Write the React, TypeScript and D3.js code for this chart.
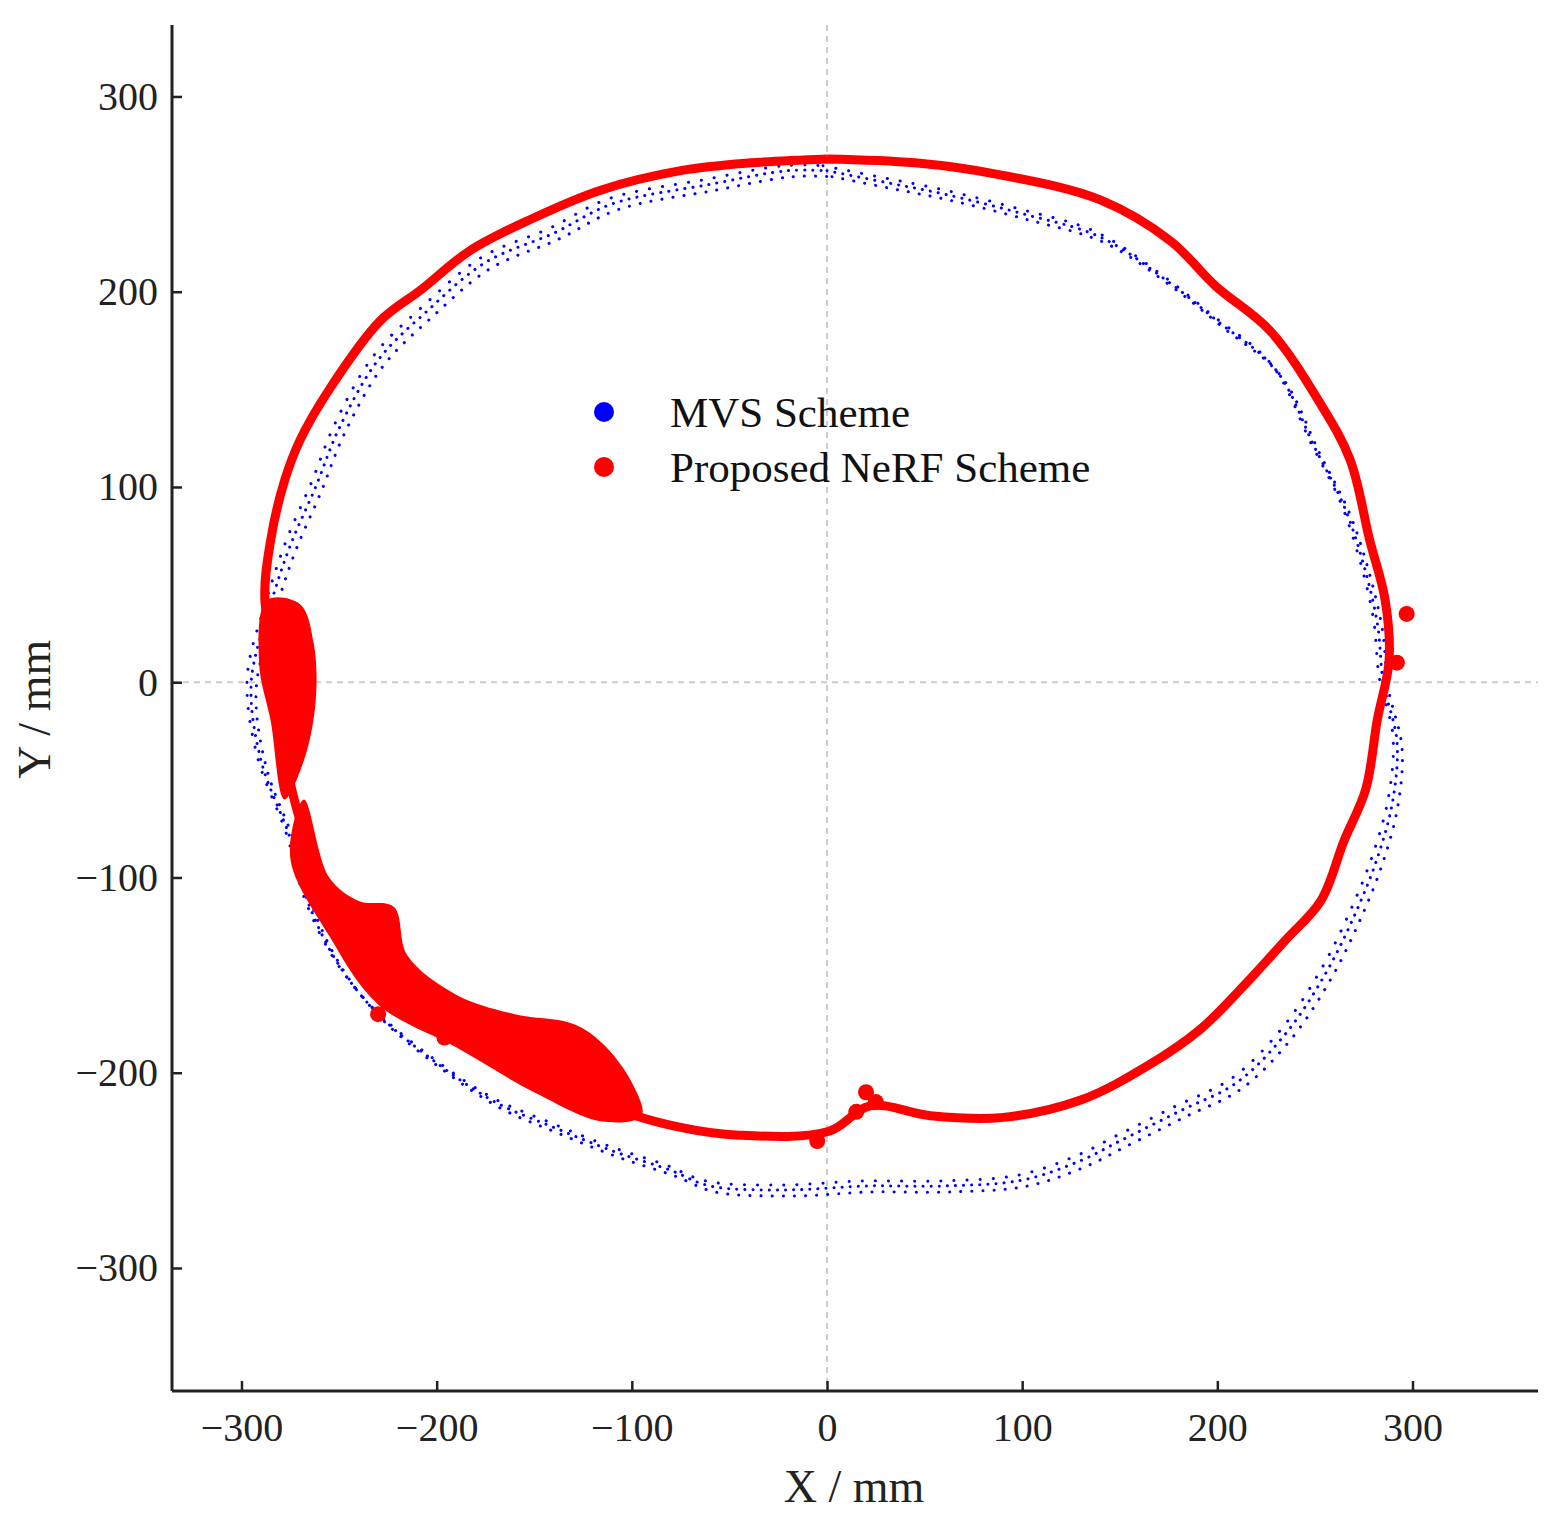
import { useEffect, useRef } from 'react';
import * as d3 from 'd3';

// red centerline (mm), ordered around the ring
const nerfX = [0, 45, 88, 140, 176, 199, 227, 252, 268, 278, 286, 288, 282, 276, 265, 253, 235, 214, 191, 165, 130, 89, 53, 22, 1, -45, -75, -106, -137, -168, -203, -229, -255, -270, -278, -280, -288, -285, -278, -270, -255, -229, -208, -183, -152, -116, -75, -39, 0];
const nerfY = [268, 266, 260, 247, 226, 203, 180, 144, 114, 73, 42, 11, -19, -55, -81, -112, -132, -155, -178, -196, -214, -223, -222, -217, -230, -232, -228, -219, -201, -186, -168, -147, -112, -71, -35, 0, 42, 73, 103, 124, 150, 185, 201, 221, 237, 252, 262, 266, 268];
// dense red patches (outlines)
const lowBlobX = [-268, -255, -240, -222, -215, -190, -160, -130, -115, -100, -95, -115, -150, -190, -230, -255, -275];
const lowBlobY = [-60, -100, -112, -115, -140, -160, -170, -175, -185, -205, -222, -225, -210, -187, -165, -130, -90];
const leftBlobX = [-287, -270, -263, -262, -268, -278, -285, -291];
const leftBlobY = [42, 40, 20, -10, -40, -60, -20, 10];
// loose red points
const clumpX = [20, 15, 25, -5, 292, 297, -160, -130, -120, -196, -230];
const clumpY = [-210, -220, -215, -235, 10, 35, -195, -213, -218, -182, -170];

// blue MVS point band
const mvsX = [0, 30, 60, 100, 140, 175, 200, 230, 250, 265, 275, 282, 285, 292, 290, 282, 270, 255, 235, 210, 180, 150, 130, 100, 60, 20, -20, -60, -80, -110, -140, -170, -200, -230, -250, -265, -275, -290, -295, -285, -275, -262, -250, -230, -205, -175, -140, -110, -60, -20, 0];
const mvsY = [262, 256, 250, 240, 228, 205, 185, 160, 120, 90, 60, 30, 0, -30, -60, -90, -120, -150, -180, -205, -220, -235, -245, -255, -258, -258, -260, -258, -250, -240, -228, -215, -195, -170, -145, -115, -80, -40, 0, 40, 70, 100, 130, 165, 190, 215, 230, 245, 255, 262, 262];

const xTicks = [-300, -200, -100, 0, 100, 200, 300];
const yTicks = [-300, -200, -100, 0, 100, 200, 300];

export default function App() {
  const ref = useRef<SVGSVGElement>(null);

  useEffect(() => {
    document.body.style.margin = '0';
    const svg = d3.select(ref.current);
    svg.selectAll('*').remove();
    const left = 172, right = 1538, top = 25, bottom = 1391;
    const x = d3.scaleLinear().domain([-335.6, 364.3]).range([left, right]);
    const y = d3.scaleLinear().domain([-363, 336.6]).range([bottom, top]);
    const font = '"Liberation Serif", "Times New Roman", serif';
    const fmt = (d: any) => d3.format('')(d as number).replace('-', '\u2212');

    // dashed zero lines
    svg.append('line').attr('x1', x(0)).attr('x2', x(0)).attr('y1', top).attr('y2', bottom)
      .attr('stroke', '#ccc').attr('stroke-width', 2).attr('stroke-dasharray', '6,5');
    svg.append('line').attr('x1', left).attr('x2', right).attr('y1', y(0)).attr('y2', y(0))
      .attr('stroke', '#ccc').attr('stroke-width', 2).attr('stroke-dasharray', '6,5');

    const mk = (xs: number[], ys: number[], curve: any) =>
      d3.line<number>().x(i => x(xs[i])).y(i => y(ys[i])).curve(curve)(d3.range(xs.length));

    const bd = mk(mvsX, mvsY, d3.curveCatmullRom);
    [[0, 0, 8], [5, 6, 11], [-4, -5, 13]].forEach(([dx, dy, gap]) => {
      svg.append('path').attr('d', bd).attr('fill', 'none').attr('stroke', '#0000ff').attr('stroke-width', 3)
        .attr('transform', `translate(${dx},${dy})`)
        .attr('stroke-linecap', 'round').attr('stroke-dasharray', `0.1,${gap}`);
    });

    svg.append('path').attr('d', mk(nerfX, nerfY, d3.curveCatmullRom))
      .attr('fill', 'none').attr('stroke', '#ff0000').attr('stroke-width', 9).attr('stroke-linejoin', 'round');
    svg.append('path').attr('d', mk(lowBlobX, lowBlobY, d3.curveCatmullRomClosed)).attr('fill', '#ff0000');
    svg.append('path').attr('d', mk(leftBlobX, leftBlobY, d3.curveCatmullRomClosed)).attr('fill', '#ff0000');
    svg.append('g').selectAll('circle').data(d3.range(clumpX.length)).join('circle')
      .attr('cx', i => x(clumpX[i])).attr('cy', i => y(clumpY[i])).attr('r', 8).attr('fill', '#ff0000');

    // axes
    const xa = svg.append('g').attr('transform', `translate(0,${bottom})`)
      .call(d3.axisBottom(x).tickValues(xTicks).tickSize(-10).tickPadding(22).tickFormat(fmt));
    const ya = svg.append('g').attr('transform', `translate(${left},0)`)
      .call(d3.axisLeft(y).tickValues(yTicks).tickSize(-10).tickPadding(14).tickFormat(fmt));
    [xa, ya].forEach(a => {
      a.select('.domain').attr('stroke', '#222').attr('stroke-width', 3);
      a.selectAll('.tick line').attr('stroke', '#222').attr('stroke-width', 2.5);
      a.selectAll('text').attr('font-family', font).attr('font-size', 40).attr('fill', '#222');
    });
    xa.select('.domain').attr('d', `M${left},0H${right}`);
    ya.select('.domain').attr('d', `M0,${top}V${bottom}`);

    svg.append('text').attr('x', x(0) + 27).attr('y', 1502).attr('text-anchor', 'middle')
      .attr('font-family', font).attr('font-size', 46).attr('fill', '#222').text('X / mm');
    svg.append('text').attr('transform', `translate(50,${y(0) + 27}) rotate(-90)`).attr('text-anchor', 'middle')
      .attr('font-family', font).attr('font-size', 46).attr('fill', '#222').text('Y / mm');

    // legend
    const leg = [['MVS Scheme', '#0000ff'], ['Proposed NeRF Scheme', '#ff0000']];
    leg.forEach(([t, c], i) => {
      svg.append('circle').attr('cx', 604).attr('cy', 412 + i * 55).attr('r', 10).attr('fill', c);
      svg.append('text').attr('x', 670).attr('y', 427 + i * 55).attr('font-family', font)
        .attr('font-size', 43).attr('fill', '#111').text(t);
    });
  }, []);

  return <svg ref={ref} width={1558} height={1525} style={{ display: 'block', background: '#fff' }} />;
}
